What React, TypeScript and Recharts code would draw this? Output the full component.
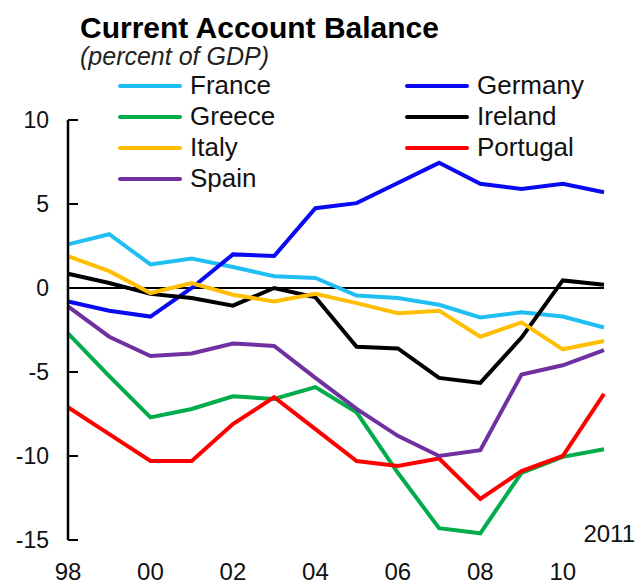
import { Legend, Line, LineChart, ReferenceLine, XAxis, YAxis } from 'recharts'

const years = [1998, 1999, 2000, 2001, 2002, 2003, 2004, 2005, 2006, 2007, 2008, 2009, 2010, 2011]

const france = [2.6, 3.2, 1.4, 1.75, 1.25, 0.7, 0.6, -0.45, -0.6, -1.0, -1.75, -1.45, -1.7, -2.35]
const germany = [-0.8, -1.35, -1.7, 0.0, 2.0, 1.9, 4.75, 5.05, 6.25, 7.45, 6.2, 5.9, 6.2, 5.7]
const greece = [-2.7, -5.25, -7.7, -7.2, -6.45, -6.6, -5.9, -7.4, -11.0, -14.3, -14.6, -11.0, -10.05, -9.6]
const ireland = [0.85, 0.3, -0.35, -0.6, -1.05, 0.0, -0.55, -3.5, -3.6, -5.35, -5.65, -2.95, 0.45, 0.2]
const italy = [1.9, 1.0, -0.3, 0.3, -0.4, -0.8, -0.35, -0.9, -1.5, -1.35, -2.9, -2.05, -3.65, -3.15]
const portugal = [-7.1, -8.7, -10.3, -10.3, -8.1, -6.5, -8.4, -10.3, -10.6, -10.15, -12.55, -10.9, -10.0, -6.3]
const spain = [-1.1, -2.9, -4.05, -3.9, -3.3, -3.45, -5.35, -7.2, -8.8, -10.0, -9.65, -5.15, -4.6, -3.7]

const xTicks = [1998, 2000, 2002, 2004, 2006, 2008, 2010]
const yTicks = [-15, -10, -5, 0, 5, 10]

const FONT = '"Liberation Sans", Arial, sans-serif'

interface Country {
  color: string
  key: string
  name: string
  values: number[]
}

const countries: Country[] = [
  { color: '#1fbff3', key: 'france', name: 'France', values: france },
  { color: '#0a0af2', key: 'germany', name: 'Germany', values: germany },
  { color: '#00ac4c', key: 'greece', name: 'Greece', values: greece },
  { color: '#000000', key: 'ireland', name: 'Ireland', values: ireland },
  { color: '#ffbf00', key: 'italy', name: 'Italy', values: italy },
  { color: '#ff0000', key: 'portugal', name: 'Portugal', values: portugal },
  { color: '#7030a0', key: 'spain', name: 'Spain', values: spain },
]

const rows = years.map((year, index) => {
  const row: Record<string, number> = { year }
  for (const country of countries) {
    row[country.key] = country.values[index]
  }
  return row
})

function YTick({ x, y, payload }: { x: number; y: number; payload: { value: number } }) {
  return (
    <g>
      <line x1={x} x2={x + 10} y1={y} y2={y} stroke="#000" strokeWidth={2} />
      <text
        x={x - 19}
        y={y}
        dy="0.36em"
        textAnchor="end"
        fill="#111"
        fontSize={23}
        fontFamily={FONT}
      >
        {payload.value}
      </text>
    </g>
  )
}

function LegendGrid() {
  return (
    <div
      style={{
        display: 'grid',
        gridTemplateColumns: '287px 200px',
        fontFamily: FONT,
        fontSize: 26,
        color: '#111',
      }}
    >
      {countries.map((country) => (
        <div
          key={country.key}
          style={{ alignItems: 'center', display: 'flex', height: 31, lineHeight: '31px' }}
        >
          <span
            style={{
              background: country.color,
              borderRadius: 2,
              display: 'inline-block',
              height: 4,
              marginRight: 8,
              width: 64,
            }}
          />
          {country.name}
        </div>
      ))}
    </div>
  )
}

export default function App() {
  return (
    <div style={{ height: 585, position: 'relative', width: 640 }}>
      <style>{'body { margin: 0; }'}</style>
      <div
        style={{
          fontFamily: FONT,
          fontSize: 30,
          fontWeight: 700,
          left: 80,
          lineHeight: '30px',
          position: 'absolute',
          top: 13,
        }}
      >
        Current Account Balance
      </div>
      <div
        style={{
          color: '#222',
          fontFamily: FONT,
          fontSize: 25,
          fontStyle: 'italic',
          left: 80,
          lineHeight: '25px',
          position: 'absolute',
          top: 44,
        }}
      >
        (percent of GDP)
      </div>
      <LineChart
        width={640}
        height={585}
        data={rows}
        margin={{ top: 120, right: 36, left: 0, bottom: 0 }}
      >
        <XAxis
          axisLine={false}
          dataKey="year"
          domain={[1998, 2011]}
          height={45}
          tick={{ fill: '#111', fontSize: 24, fontFamily: FONT }}
          tickFormatter={(value: number) => String(value).slice(2)}
          tickLine={false}
          tickMargin={23}
          tickSize={0}
          ticks={xTicks}
          type="number"
        />
        <YAxis
          axisLine={{ stroke: '#000', strokeWidth: 2.5 }}
          domain={[-15, 10]}
          tick={YTick}
          tickLine={false}
          tickMargin={0}
          tickSize={0}
          ticks={yTicks}
          type="number"
          width={68}
        />
        <ReferenceLine y={0} stroke="#000" strokeWidth={2} />
        {countries.map((country) => (
          <Line
            key={country.key}
            dataKey={country.key}
            dot={false}
            activeDot={false}
            isAnimationActive={false}
            name={country.name}
            stroke={country.color}
            strokeWidth={4}
            type="linear"
          />
        ))}
        <Legend
          align="center"
          content={LegendGrid}
          layout="vertical"
          verticalAlign="middle"
          wrapperStyle={{ left: 118, top: 70, width: 500 }}
        />
      </LineChart>
      <div
        style={{
          color: '#111',
          fontFamily: FONT,
          fontSize: 24,
          lineHeight: '24px',
          position: 'absolute',
          right: 5,
          top: 522,
        }}
      >
        2011
      </div>
    </div>
  )
}
